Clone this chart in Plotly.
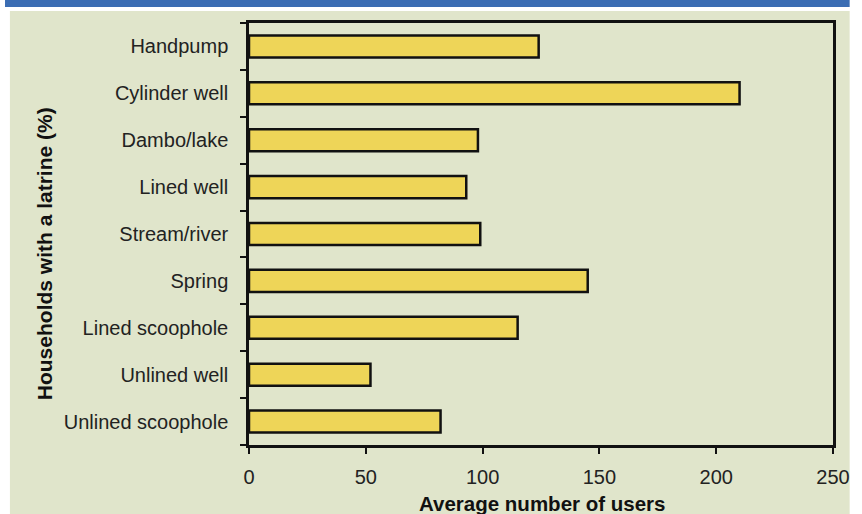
import plotly.graph_objects as go

categories = ["Handpump", "Cylinder well", "Dambo/lake", "Lined well", "Stream/river",
              "Spring", "Lined scoophole", "Unlined well", "Unlined scoophole"]
avg_users = [124, 210, 98, 93, 99, 145, 115, 52, 82]
x_ticks = [0, 50, 100, 150, 200, 250]

W, H = 862, 514
L, R, T, B = 249, 17, 23, 69
pw, ph = W - L - R, H - T - B

def px(x):
    return (x - L) / pw

def py(y):
    return (H - B - y) / ph

BEIGE = "#E0E5CB"
BLUE = "#3B6DB3"
FONT = "Liberation Sans, Arial, Helvetica, sans-serif"

fig = go.Figure(go.Bar(
    y=categories, x=avg_users, orientation="h",
    marker=dict(color="#EED558", line=dict(color="#111111", width=2.5)),
    width=0.47,
))

fig.update_layout(
    width=W, height=H, autosize=False,
    margin=dict(l=L, r=R, t=T, b=B),
    paper_bgcolor="white", plot_bgcolor=BEIGE,
    showlegend=False,
    font=dict(family=FONT, size=20, color="#222222"),
    xaxis=dict(range=[0, 250], tickvals=x_ticks, ticks="outside", ticklen=6, tickwidth=2,
               tickcolor="#111", showline=True, linecolor="#111", linewidth=2.5, mirror=True,
               showgrid=False, zeroline=False, ticklabelstandoff=6,
               tickfont=dict(size=20, color="#222")),
    yaxis=dict(categoryorder="array", categoryarray=categories[::-1],
               ticks="outside", tickson="boundaries", ticklen=6, tickwidth=2, tickcolor="#111",
               showline=True, linecolor="#111", linewidth=2.5, mirror=True,
               showgrid=False, zeroline=False, ticklabelstandoff=14,
               tickfont=dict(size=20, color="#222")),
    shapes=[
        dict(type="rect", xref="paper", yref="paper", x0=px(5), x1=px(W), y0=py(11), y1=py(H),
             fillcolor=BEIGE, line=dict(width=0), layer="below"),
        dict(type="rect", xref="paper", yref="paper", x0=px(0), x1=px(W), y0=py(7), y1=py(0),
             fillcolor=BLUE, line=dict(width=0), layer="below"),
    ],
    annotations=[
        dict(text="<b>Average number of users</b>", xref="paper", yref="paper",
             x=px(548), y=py(503), xanchor="center", yanchor="middle", showarrow=False,
             font=dict(size=20.5, color="#111", family=FONT)),
        dict(text="<b>Households with a latrine (%)</b>", xref="paper", yref="paper",
             x=px(40), y=py(254), xanchor="center", yanchor="middle", showarrow=False,
             textangle=-90, font=dict(size=21, color="#111", family=FONT)),
    ],
)

fig.write_html("out.html",
               config={"displayModeBar": False, "responsive": False},
               post_script=["document.documentElement.style.overflow='hidden';"
                            "document.body.style.margin='0';document.body.style.overflow='hidden';"])
